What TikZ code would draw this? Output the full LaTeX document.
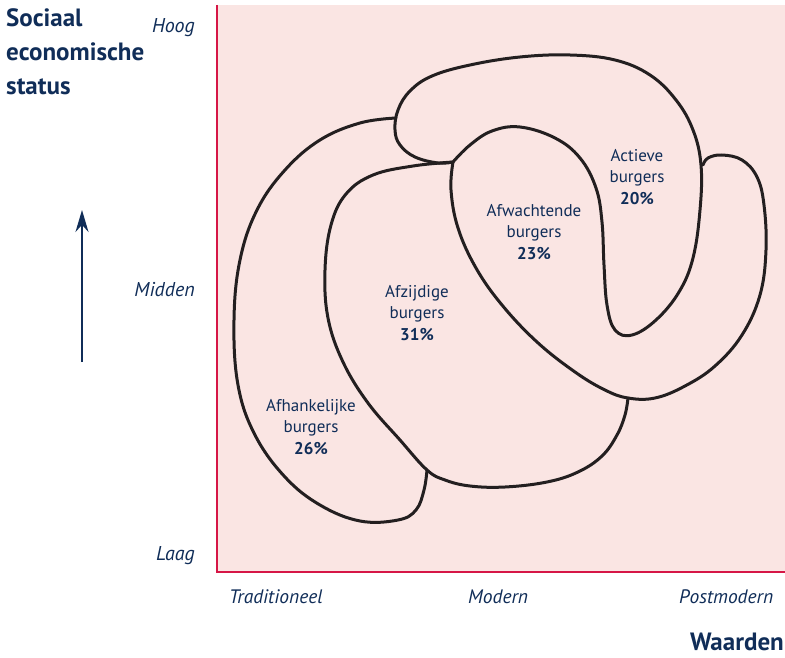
\documentclass[tikz,border=0pt]{standalone}
\usepackage{fontspec}
\setmainfont{PT Sans}
\usetikzlibrary{arrows.meta}
\definecolor{navy}{RGB}{16,45,88}
\definecolor{axisred}{RGB}{214,22,70}
\definecolor{panel}{RGB}{250,229,227}
\definecolor{ink}{RGB}{35,31,32}
\begin{document}
\begin{tikzpicture}[x=1pt, y=-1pt, >={Stealth[length=22pt,width=13pt]}]
\tikzstyle{every node}=[text=navy, inner sep=0pt]
\tikzstyle{ytxt}=[anchor=base east, font=\fontsize{20}{24}\selectfont\itshape]
\tikzstyle{xtxt}=[anchor=base west, font=\fontsize{19.5}{24}\selectfont\itshape]
\tikzstyle{grp}=[align=center, font=\fontsize{17}{21.5}\selectfont]
\tikzstyle{head}=[font=\fontsize{25}{34}\selectfont\bfseries]
\tikzstyle{rim}=[draw=ink, line width=3pt, line cap=round, line join=round]
\useasboundingbox (0,0) rectangle (785,658);
\fill[panel] (217,5) rectangle (785,572);
\draw[axisred, line width=2pt] (217,5) -- (217,572) -- (785,572);
\node[head, anchor=north west, align=left] (soc) at (6,8) {Sociaal\\economische\\status};
\node[ytxt] (hoog) at (195,33) {Hoog};
\node[ytxt] (mid) at (195,296) {Midden};
\node[ytxt] (laag) at (195,560) {Laag};
\node[xtxt] (trad) at (229,603) {Traditioneel};
\node[xtxt] (mod) at (468,603) {Modern};
\node[xtxt] (post) at (679,603) {Postmodern};
\node[head, anchor=base east] (waard) at (784,650) {Waarden};
\coordinate (up0) at (82,362);
\coordinate (up1) at (82,210);
\draw[->, navy, line width=2.2pt] (up0) -- (up1);
\draw[rim] plot[smooth, tension=0.65] coordinates {(453,162) (438,163) (415,157) (400,145) (395,130) (398,110) (410,91) (432,76) (470,65) (520,57) (570,55) (615,60) (650,75) (676,100) (693,130) (701,165) (700,210) (693,258) (679,292) (656,320) (632,335) (615,330) (607,305) (604,265) (602,222) (596,188) (580,158) (555,138) (520,127) (492,131) (470,145) (453,162)};
\draw[rim] plot[smooth, tension=0.65] coordinates {(453,162) (451,190) (458,228) (476,268) (502,305) (537,342) (575,372) (605,390) (628,398) (655,398) (685,386) (715,366) (742,335) (760,295) (766,250) (764,205) (757,177) (742,160) (722,155) (708,158) (703,165)};
\draw[rim] plot[smooth, tension=0.65] coordinates {(453,162) (413,166) (373,175) (346,194) (331,225) (325,270) (328,318) (343,362) (368,403) (400,440) (427,470) (445,480) (470,486) (505,487) (547,482) (578,472) (602,456) (617,435) (625,415) (628,398)};
\draw[rim] plot[smooth, tension=0.65] coordinates {(396,118) (360,123) (320,140) (285,170) (257,210) (240,260) (234,320) (238,385) (255,435) (285,477) (320,505) (360,521) (398,520) (416,510) (424,490) (427,470)};
\node[grp] (afh) at (311,427) {Afhankelijke\\burgers\\\textbf{26\%}};
\node[grp] (afz) at (417,313) {Afzijdige\\burgers\\\textbf{31\%}};
\node[grp] (afw) at (534,232) {Afwachtende\\burgers\\\textbf{23\%}};
\node[grp] (act) at (637,177) {Actieve\\burgers\\\textbf{20\%}};
\end{tikzpicture}
\end{document}
